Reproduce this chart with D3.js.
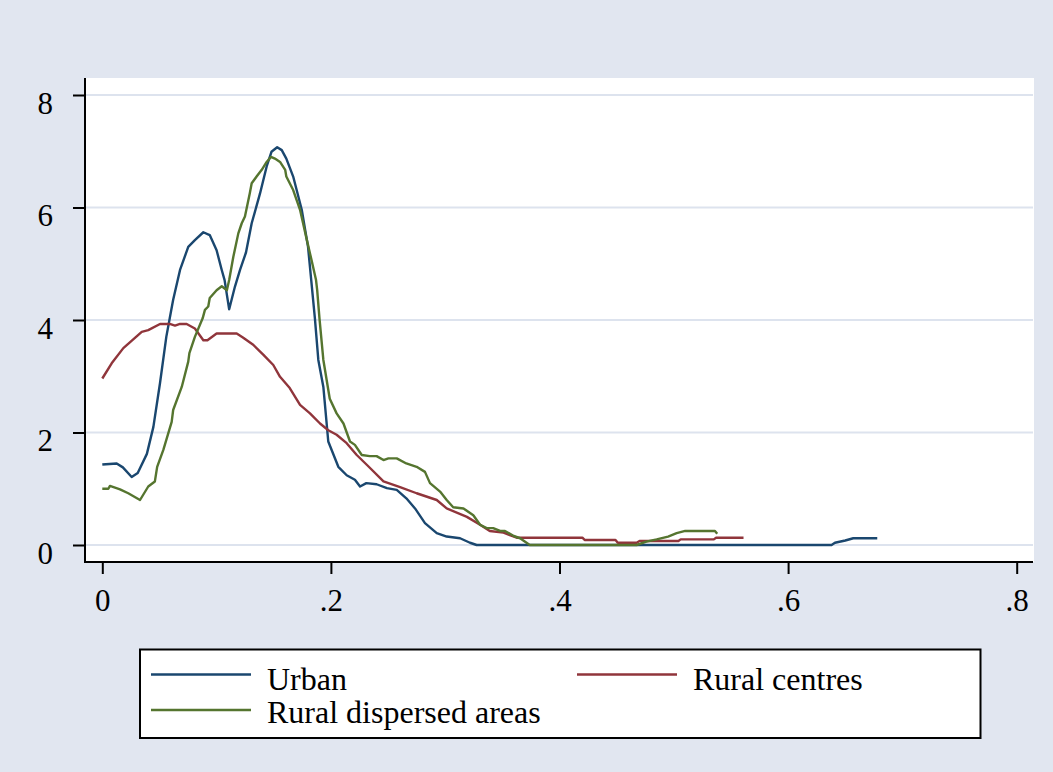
<!DOCTYPE html>
<html>
<head>
<meta charset="utf-8">
<script src="https://cdn.jsdelivr.net/npm/d3@7"></script>
<style>
  html, body { margin: 0; padding: 0; background: #e1e6f0; }
  svg { display: block; }
  text { font-family: "Liberation Serif", "Times New Roman", serif; fill: #000; }
</style>
</head>
<body>
<svg id="chart" width="1053" height="772"></svg>
<script>
// ---- Data ----
const xTicks = [0, 0.2, 0.4, 0.6, 0.8];
const xTickLabels = ["0", ".2", ".4", ".6", ".8"];
const yTicks = [0, 2, 4, 6, 8];
const yTickLabels = ["0", "2", "4", "6", "8"];
const seriesNames = ["Urban", "Rural centres", "Rural dispersed areas"];
const seriesColors = ["#1a476f", "#90353b", "#55752f"];

const urban = [[0,1.43],[0.0126,1.45],[0.018,1.38],[0.0257,1.21],[0.031,1.28],[0.039,1.62],[0.0447,2.1],[0.0505,2.88],[0.056,3.7],[0.059,4.03],[0.062,4.36],[0.068,4.89],[0.0752,5.3],[0.081,5.42],[0.0884,5.56],[0.094,5.51],[0.1,5.24],[0.1045,4.89],[0.107,4.71],[0.111,4.19],[0.116,4.59],[0.1205,4.89],[0.1257,5.2],[0.1307,5.72],[0.138,6.25],[0.1438,6.73],[0.148,6.99],[0.153,7.07],[0.157,7.02],[0.161,6.87],[0.167,6.55],[0.1745,5.96],[0.18,5.3],[0.186,4.03],[0.189,3.29],[0.1934,2.81],[0.1977,1.84],[0.2065,1.39],[0.2138,1.24],[0.221,1.16],[0.2255,1.04],[0.231,1.1],[0.24,1.08],[0.249,1.01],[0.2576,0.98],[0.266,0.83],[0.2736,0.65],[0.2823,0.39],[0.2926,0.21],[0.3013,0.15],[0.313,0.12],[0.3217,0.04],[0.3275,0],[0.638,0],[0.641,0.04],[0.65,0.08],[0.657,0.12],[0.678,0.12]];

const ruralCentres = [[0,2.96],[0.0082,3.23],[0.0184,3.5],[0.0345,3.79],[0.0402,3.82],[0.0505,3.93],[0.059,3.93],[0.0636,3.9],[0.068,3.93],[0.0738,3.93],[0.081,3.85],[0.0884,3.64],[0.092,3.64],[0.1,3.76],[0.1176,3.76],[0.123,3.69],[0.132,3.56],[0.141,3.38],[0.1496,3.2],[0.1555,2.99],[0.164,2.79],[0.173,2.49],[0.1817,2.34],[0.1905,2.16],[0.1977,2.04],[0.205,1.96],[0.2138,1.81],[0.2226,1.6],[0.2327,1.4],[0.246,1.13],[0.2605,1.03],[0.275,0.92],[0.2926,0.8],[0.3013,0.65],[0.319,0.5],[0.3305,0.36],[0.339,0.25],[0.351,0.22],[0.3626,0.13],[0.42,0.13],[0.422,0.09],[0.449,0.09],[0.451,0.04],[0.4675,0.04],[0.47,0.07],[0.504,0.07],[0.506,0.1],[0.535,0.1],[0.537,0.13],[0.561,0.13]];

const ruralDispersed = [[0,1.0],[0.0053,1.0],[0.0067,1.05],[0.0155,0.99],[0.0227,0.92],[0.033,0.8],[0.0402,1.04],[0.046,1.13],[0.048,1.39],[0.0534,1.69],[0.0607,2.19],[0.062,2.4],[0.0695,2.81],[0.0752,3.26],[0.0762,3.41],[0.081,3.7],[0.0878,4.03],[0.0898,4.18],[0.0927,4.24],[0.094,4.39],[0.1,4.53],[0.1045,4.6],[0.109,4.53],[0.111,4.71],[0.1146,5.12],[0.119,5.54],[0.122,5.72],[0.1248,5.84],[0.129,6.25],[0.1307,6.43],[0.135,6.55],[0.1395,6.67],[0.1438,6.81],[0.1476,6.9],[0.151,6.87],[0.1555,6.81],[0.16,6.67],[0.161,6.55],[0.167,6.31],[0.173,5.96],[0.179,5.42],[0.183,5.07],[0.187,4.71],[0.188,4.53],[0.19,4.03],[0.1934,3.29],[0.199,2.6],[0.205,2.34],[0.211,2.16],[0.2167,1.84],[0.221,1.78],[0.227,1.6],[0.234,1.58],[0.24,1.58],[0.246,1.51],[0.2503,1.54],[0.2576,1.54],[0.266,1.45],[0.275,1.39],[0.2823,1.3],[0.2867,1.1],[0.2955,0.95],[0.3013,0.8],[0.307,0.67],[0.316,0.65],[0.3246,0.53],[0.3305,0.36],[0.3363,0.3],[0.342,0.3],[0.348,0.25],[0.3523,0.25],[0.36,0.16],[0.3655,0.12],[0.374,0],[0.4675,0],[0.476,0.06],[0.485,0.1],[0.495,0.15],[0.5025,0.21],[0.51,0.25],[0.536,0.25],[0.538,0.2]];

const seriesData = [urban, ruralCentres, ruralDispersed];

// ---- Layout ----
const svg = d3.select("#chart");
const plot = { left: 85, right: 1034, top: 78, bottom: 562 };
const x = d3.scaleLinear().domain([0, 0.8]).range([102.3, 1016.7]);
const y = d3.scaleLinear().domain([0, 8]).range([545, 95]);

svg.append("rect").attr("width", 1053).attr("height", 772).attr("fill", "#e1e6f0");
svg.append("rect")
  .attr("x", plot.left).attr("y", plot.top)
  .attr("width", plot.right - plot.left).attr("height", plot.bottom - plot.top)
  .attr("fill", "#ffffff");

// gridlines
svg.append("g").selectAll("line").data(yTicks).join("line")
  .attr("x1", plot.left + 1).attr("x2", plot.right - 1)
  .attr("y1", d => y(d)).attr("y2", d => y(d))
  .attr("stroke", "#dde3ee").attr("stroke-width", 1.8);

// series lines
const line = d3.line().x(d => x(d[0])).y(d => y(d[1]));
svg.append("g").selectAll("path").data(seriesData).join("path")
  .attr("d", line)
  .attr("fill", "none")
  .attr("stroke", (d, i) => seriesColors[i])
  .attr("stroke-width", 2.4)
  .attr("stroke-linejoin", "round");

// axes
const yAxis = d3.axisLeft(y).tickValues(yTicks).tickFormat((d, i) => yTickLabels[i])
  .tickSize(12).tickSizeOuter(0);
const gy = svg.append("g").attr("transform", `translate(${plot.left},0)`).call(yAxis);
gy.select(".domain").remove();
gy.selectAll(".tick line").attr("stroke", "#000").attr("stroke-width", 2);
gy.selectAll(".tick text").attr("font-size", 31).attr("dy", null).attr("y", 18)
  .attr("x", -32).attr("font-family", "Liberation Serif, Times New Roman, serif");

const xAxis = d3.axisBottom(x).tickValues(xTicks).tickFormat((d, i) => xTickLabels[i])
  .tickSize(12).tickSizeOuter(0);
const gx = svg.append("g").attr("transform", `translate(0,${plot.bottom})`).call(xAxis);
gx.select(".domain").remove();
gx.selectAll(".tick line").attr("stroke", "#000").attr("stroke-width", 2);
gx.selectAll(".tick text").attr("font-size", 31).attr("dy", null).attr("y", 49)
  .attr("font-family", "Liberation Serif, Times New Roman, serif");

svg.append("line").attr("x1", plot.left).attr("x2", plot.left)
  .attr("y1", plot.top).attr("y2", plot.bottom + 1)
  .attr("stroke", "#000").attr("stroke-width", 2);
svg.append("line").attr("x1", plot.left - 1).attr("x2", plot.right - 1)
  .attr("y1", plot.bottom).attr("y2", plot.bottom)
  .attr("stroke", "#000").attr("stroke-width", 2);

// legend
const lg = svg.append("g");
lg.append("rect").attr("x", 140).attr("y", 649.5).attr("width", 840.5).attr("height", 88.5)
  .attr("fill", "#fff").attr("stroke", "#000").attr("stroke-width", 2);
const legendItems = [
  { lx: 151, ly: 674.5, tx: 267, ty: 690 },
  { lx: 577, ly: 674.5, tx: 693, ty: 690 },
  { lx: 151, ly: 710, tx: 267, ty: 723 }
];
legendItems.forEach((p, i) => {
  lg.append("line").attr("x1", p.lx).attr("x2", p.lx + 100)
    .attr("y1", p.ly).attr("y2", p.ly)
    .attr("stroke", seriesColors[i]).attr("stroke-width", 2.4);
  lg.append("text").attr("x", p.tx).attr("y", p.ty)
    .attr("font-size", 32).text(seriesNames[i]);
});
</script>
</body>
</html>
